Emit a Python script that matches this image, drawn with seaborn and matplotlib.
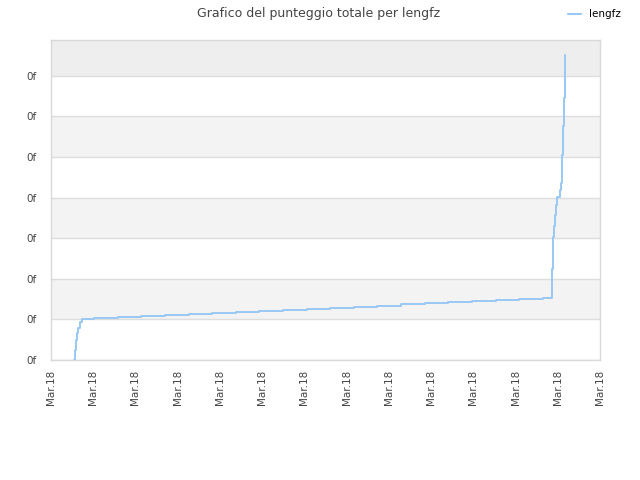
import matplotlib
matplotlib.use("Agg")
import matplotlib.pyplot as plt
import seaborn as sns
import pandas as pd

series_name = "lengfz"
title = "Grafico del punteggio totale per lengfz"

# x in tick-index units, y in tick units
x_vals = [0.533, 0.557, 0.592, 0.616, 0.640, 0.687, 0.735,
          1.019, 1.578, 2.137, 2.697, 3.256, 3.815, 4.374, 4.934, 5.493,
          6.052, 6.611, 7.171, 7.730, 8.289, 8.848, 9.408, 9.967, 10.526,
          11.085, 11.645,
          11.858, 11.882, 11.905, 11.929, 11.953, 11.976, 12.047, 12.071,
          12.095, 12.118, 12.142, 12.166, 12.180]
y_vals = [0.000, 0.246, 0.493, 0.665, 0.788, 0.936, 1.010,
          1.035, 1.061, 1.086, 1.112, 1.137, 1.163, 1.188, 1.214, 1.239,
          1.265, 1.290, 1.316, 1.341, 1.367, 1.392, 1.418, 1.443, 1.469,
          1.494, 1.520,
          2.241, 3.030, 3.300, 3.571, 3.818, 4.015, 4.187, 4.360,
          5.049, 5.764, 6.453, 7.143, 7.512]

x_tick_labels = ["Mar.18"] * 14
y_tick_labels = ["0f"] * 8

sns.set_theme(style="white")
plt.rcParams['font.family'] = ['DejaVu Sans']

fig = plt.figure(figsize=(6.4, 4.8), dpi=100)
ax = fig.add_axes([51/640, 120/480, 549/640, 320/480])

ymax = 7.88
# alternating bands
for i in range(8):
    top = min(i + 1, ymax)
    if i == 7:
        ax.axhspan(i, top, color="#eeeeee", lw=0, zorder=0)
    elif i % 2 == 1:
        ax.axhspan(i, top, color="#f3f3f3", lw=0, zorder=0)

df = pd.DataFrame({"x": x_vals, "y": y_vals, "s": series_name})
sns.lineplot(data=df, x="x", y="y", hue="s", palette=["#99c8f5"],
             drawstyle="steps-post", linewidth=1.4, ax=ax, zorder=3,
             estimator=None, sort=False)

ax.set_xlim(0, 13)
ax.set_ylim(0, ymax)
ax.set_xticks(range(14))
ax.set_xticklabels(x_tick_labels, rotation=90, fontsize=7.5, color="#444444")
ax.set_yticks(range(8))
ax.set_yticklabels(y_tick_labels, fontsize=7.5, color="#444444")
ax.tick_params(axis="y", length=0, pad=10)
ax.tick_params(axis="x", length=0, pad=7)
ax.yaxis.grid(True, color="#dddddd", linewidth=1, zorder=1)
ax.set_axisbelow(True)
ax.set_xlabel("")
ax.set_ylabel("")
for sp in ax.spines.values():
    sp.set_color("#d9d9d9")
    sp.set_linewidth(1)

ax.legend_.remove()
from matplotlib.lines import Line2D
fig.legend(handles=[Line2D([0], [0], color="#99c8f5", lw=1.5)],
           labels=[series_name], loc="upper right",
           bbox_to_anchor=(0.985, 1.0), frameon=False, fontsize=7.5,
           handlelength=1.2, handletextpad=0.8, labelcolor="#000000")

fig.suptitle(title, x=0.497, y=0.985, fontsize=9, color="#444444")

fig.savefig("out.png", dpi=100)
